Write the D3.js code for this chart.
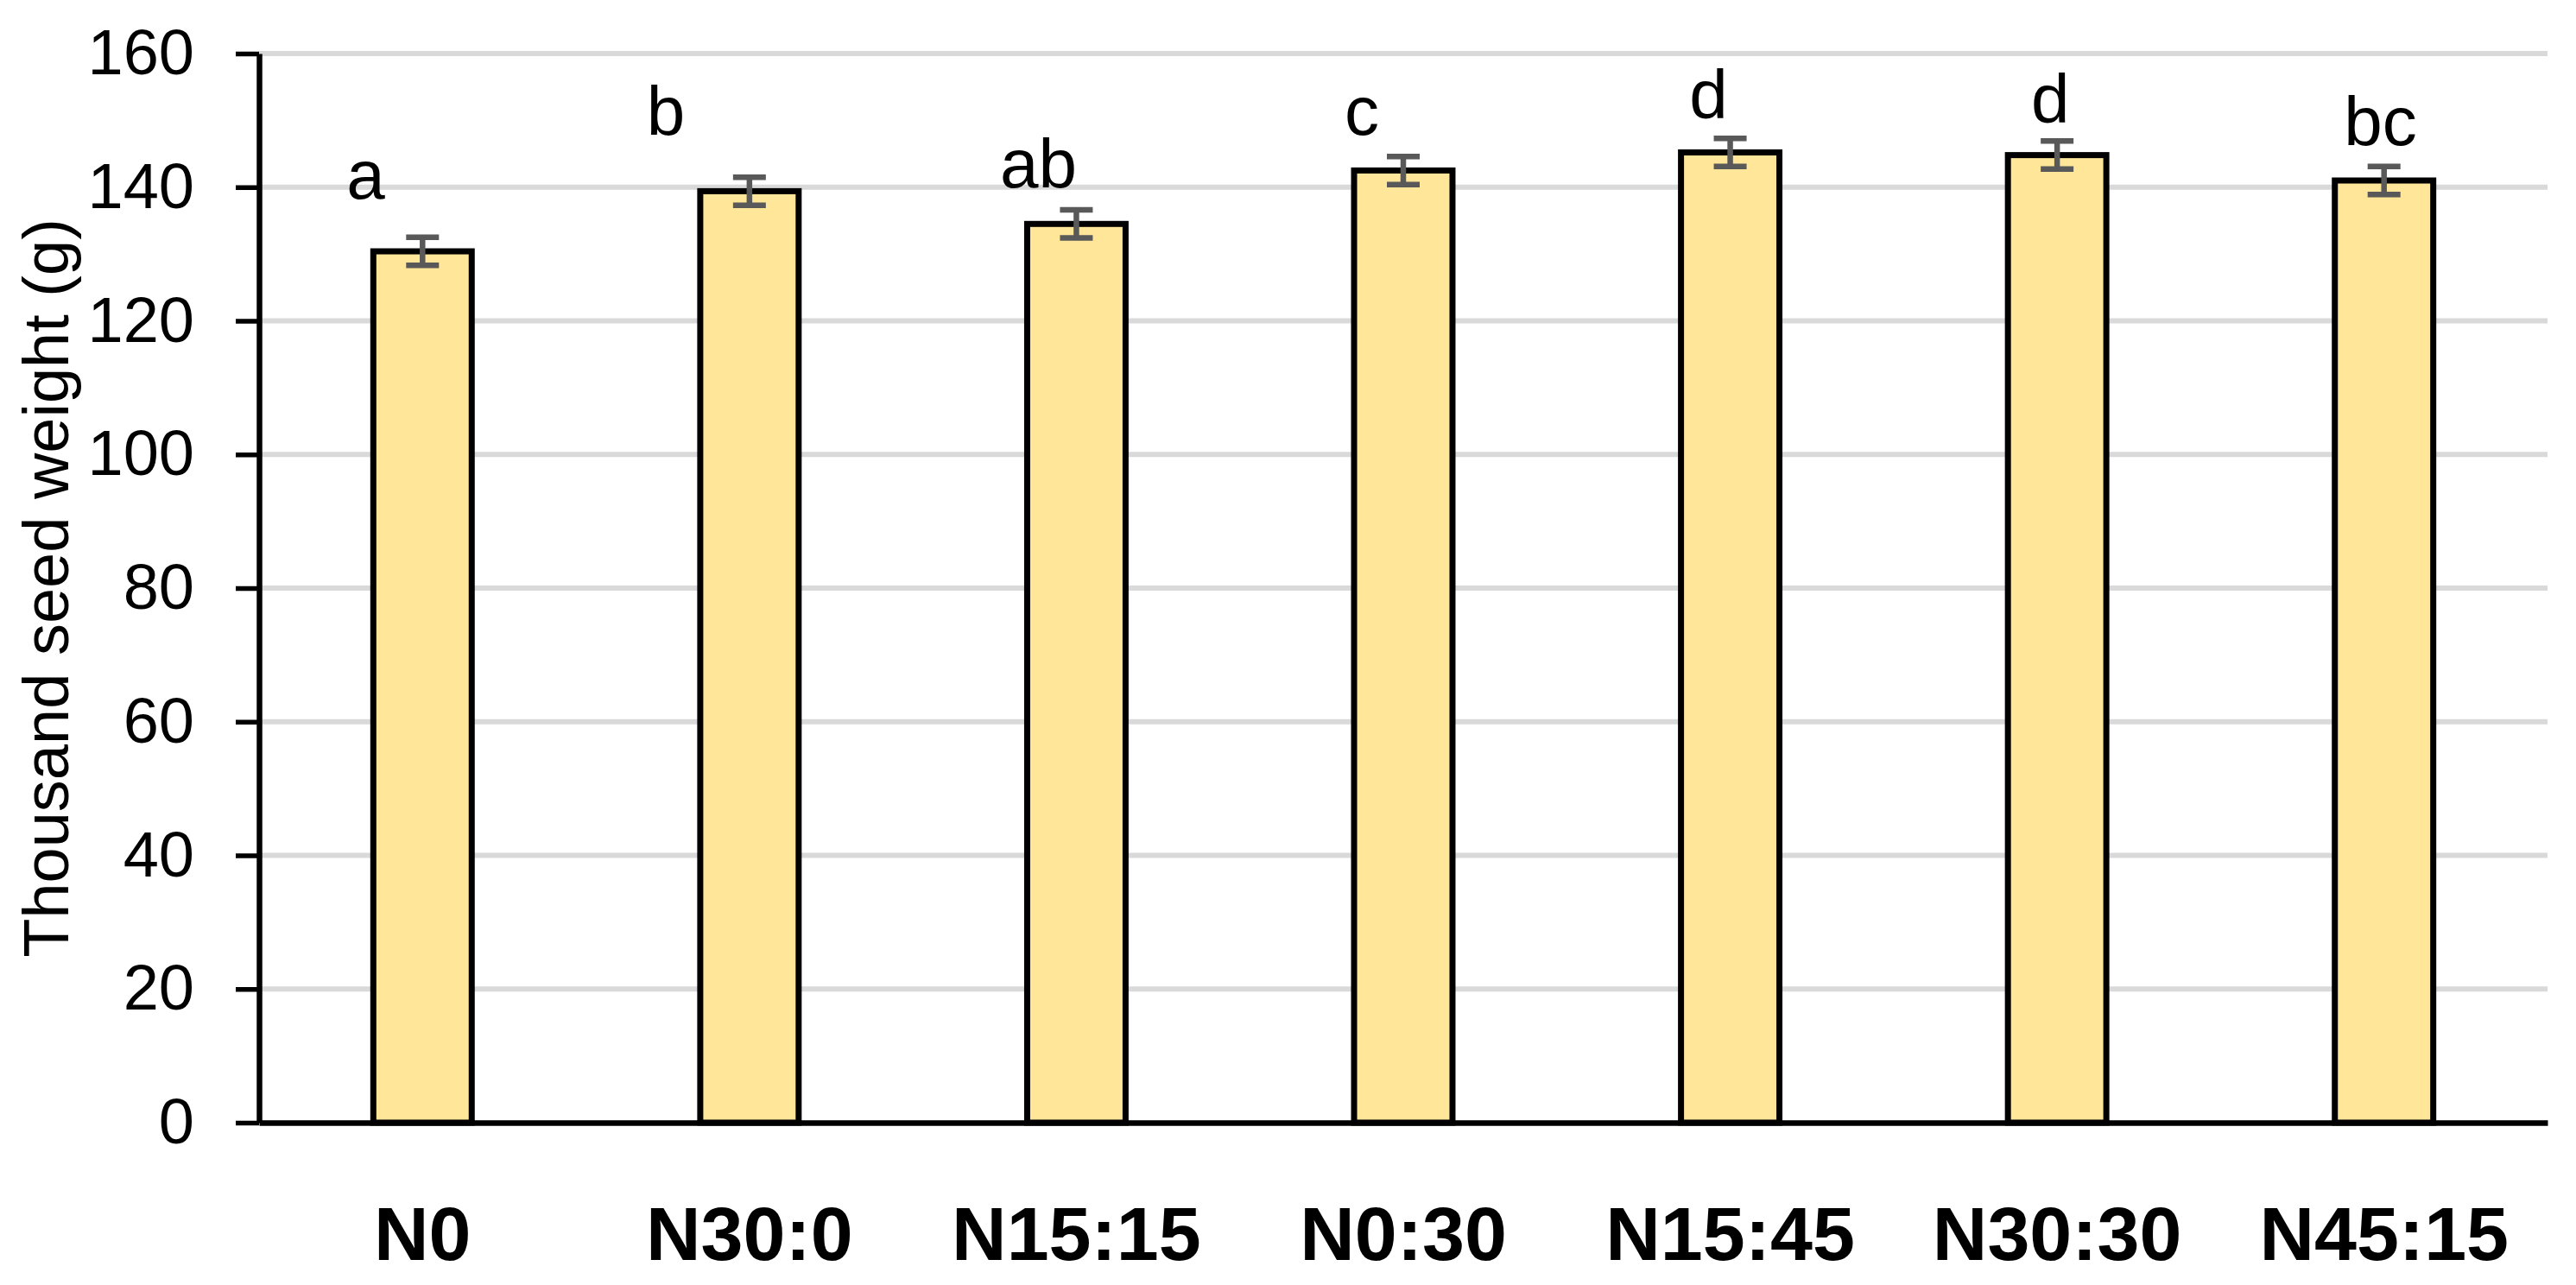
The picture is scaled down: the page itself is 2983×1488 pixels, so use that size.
<!DOCTYPE html>
<html>
<head>
<meta charset="utf-8">
<script src="https://cdn.jsdelivr.net/npm/d3@7"></script>
<style>
  html, body { margin: 0; padding: 0; background: #fff; }
  svg { display: block; }
</style>
</head>
<body>
<script>
// ---- data ----
const categories = ["N0", "N30:0", "N15:15", "N0:30", "N15:45", "N30:30", "N45:15"];
const seedWeight = [130.4, 139.4, 134.5, 142.5, 145.2, 144.8, 141.0];
const seedError  = [2.1, 2.1, 2.1, 2.1, 2.1, 2.1, 2.1];
const letters    = ["a", "b", "ab", "c", "d", "d", "bc"];
const letterLevel = [138.3, 147.8, 140.0, 147.8, 150.3, 149.7, 146.3]; // baseline level in data units
const letterShift = [-0.174, -0.256, -0.116, -0.127, -0.066, -0.021, -0.011]; // fraction of category step
const yTicks = [0, 20, 40, 60, 80, 100, 120, 140, 160];
const yTitle = "Thousand seed weight (g)";

// ---- layout ----
const W = 2983, H = 1488;
const margin = { left: 300, right: 33, top: 62, bottom: 188 };
const iw = W - margin.left - margin.right;
const ih = H - margin.top - margin.bottom;

const svg = d3.select("body").append("svg").attr("width", W).attr("height", H);
const g = svg.append("g").attr("transform", `translate(${margin.left},${margin.top})`);

const x = d3.scaleBand().domain(categories).range([0, iw]).padding(0);
const y = d3.scaleLinear().domain([0, 160]).range([ih, 0]);
const barW = x.step() * 0.301;

const font = "'Liberation Sans', Arial, sans-serif";

// gridlines
g.append("g").selectAll("line").data(yTicks.filter(t => t > 0)).join("line")
  .attr("x1", 0).attr("x2", iw)
  .attr("y1", d => y(d)).attr("y2", d => y(d))
  .attr("stroke", "#d9d9d9").attr("stroke-width", 6);

// bars
const cx = d => x(d) + x.bandwidth() / 2;
g.append("g").selectAll("rect").data(categories).join("rect")
  .attr("x", d => cx(d) - barW / 2)
  .attr("width", barW)
  .attr("y", (d, i) => y(seedWeight[i]))
  .attr("height", (d, i) => y(0) - y(seedWeight[i]))
  .attr("fill", "#FFE699")
  .attr("stroke", "#000").attr("stroke-width", 7);

// error bars
const eb = g.append("g").attr("stroke", "#595959").attr("stroke-width", 6.5);
categories.forEach((c, i) => {
  const hi = y(seedWeight[i] + seedError[i]);
  const lo = y(seedWeight[i] - seedError[i]);
  const capW = 19;
  eb.append("line").attr("x1", cx(c)).attr("x2", cx(c)).attr("y1", hi).attr("y2", lo);
  eb.append("line").attr("x1", cx(c) - capW).attr("x2", cx(c) + capW).attr("y1", hi).attr("y2", hi);
  eb.append("line").attr("x1", cx(c) - capW).attr("x2", cx(c) + capW).attr("y1", lo).attr("y2", lo);
});

// significance letters
g.append("g").selectAll("text").data(categories).join("text")
  .attr("x", (d, i) => cx(d) + letterShift[i] * x.step())
  .attr("y", (d, i) => y(letterLevel[i]))
  .attr("text-anchor", "middle")
  .attr("font-family", font).attr("font-size", 80)
  .attr("fill", "#000")
  .text((d, i) => letters[i]);

// y axis
const yAxis = g.append("g")
  .call(d3.axisLeft(y).tickValues(yTicks).tickSizeInner(27).tickSizeOuter(0).tickPadding(48));
yAxis.select(".domain").attr("stroke", "#000").attr("stroke-width", 6.5);
yAxis.selectAll(".tick line").attr("stroke", "#000").attr("stroke-width", 5.5);
yAxis.selectAll(".tick text").attr("font-family", font).attr("font-size", 74).attr("fill", "#000");

// x axis
const xAxis = g.append("g").attr("transform", `translate(0,${ih})`)
  .call(d3.axisBottom(x).tickSize(0).tickSizeOuter(0).tickPadding(0));
xAxis.select(".domain").attr("stroke", "#000").attr("stroke-width", 6.5);
xAxis.selectAll(".tick text")
  .attr("dy", null)
  .attr("y", 159)
  .attr("font-family", font).attr("font-weight", "bold").attr("font-size", 88).attr("fill", "#000");

// y title
svg.append("text")
  .attr("transform", `translate(79,${margin.top + ih / 2}) rotate(-90)`)
  .attr("text-anchor", "middle")
  .attr("font-family", font).attr("font-size", 74).attr("fill", "#000")
  .text(yTitle);
</script>
</body>
</html>
